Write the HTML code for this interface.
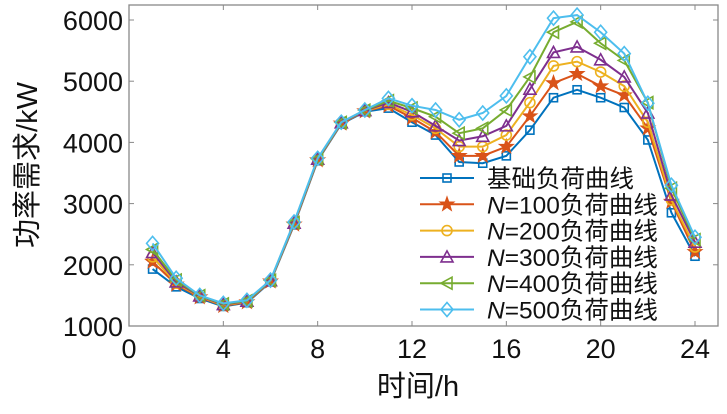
<!DOCTYPE html>
<html><head><meta charset="utf-8"><style>
body{margin:0;background:#fff;width:727px;height:409px;overflow:hidden}
svg text{font-family:"Liberation Sans","Noto Sans CJK SC",sans-serif}
</style></head><body>
<svg id="chart" width="727" height="409" xmlns="http://www.w3.org/2000/svg"></svg>
<script>
const hours=[1,2,3,4,5,6,7,8,9,10,11,12,13,14,15,16,17,18,19,20,21,22,23,24];
const base=[1930,1640,1450,1320,1380,1720,2650,3700,4300,4500,4560,4330,4120,3680,3660,3780,4200,4730,4860,4730,4570,4040,2850,2140];
const n100=[2050,1680,1470,1330,1390,1730,2660,3710,4310,4510,4600,4400,4170,3780,3780,3930,4430,4970,5120,4920,4770,4230,3030,2210];
const n200=[2130,1700,1480,1340,1400,1735,2670,3720,4315,4515,4620,4450,4230,3930,3930,4120,4650,5250,5320,5150,4920,4330,3060,2290];
const n300=[2200,1720,1490,1350,1405,1740,2680,3725,4320,4520,4650,4500,4270,4030,4100,4270,4870,5470,5560,5350,5070,4480,3140,2370];
const n400=[2250,1750,1495,1360,1410,1745,2690,3730,4325,4525,4680,4560,4420,4150,4230,4530,5070,5800,5970,5620,5340,4650,3250,2410];
const n500=[2350,1780,1500,1370,1420,1750,2700,3740,4330,4530,4720,4600,4530,4370,4480,4760,5400,6030,6080,5800,5450,4640,3300,2450];
const seriesNames=["基础负荷曲线","N=100负荷曲线","N=200负荷曲线","N=300负荷曲线","N=400负荷曲线","N=500负荷曲线"];
const xTicks=[0,4,8,12,16,20,24];
const yTicks=[1000,2000,3000,4000,5000,6000];
const data=[base,n100,n200,n300,n400,n500];
const colors=["#0072BD","#D95319","#EDB120","#7E2F8E","#77AC30","#4DBEEE"];
const markers=["square","star","circle","tri-up","tri-left","diamond"];
const L=129,R=718,T=5,B=326;
const sx=h=>L+h*(695-L)/24;
const sy=v=>B-(v-1000)*61.2/1000;
const svg=document.getElementById('chart');
const NS="http://www.w3.org/2000/svg";
function mk(tag,attrs,parent){const e=document.createElementNS(NS,tag);for(const k in attrs)e.setAttribute(k,attrs[k]);(parent||svg).appendChild(e);return e;}
const box=mk('rect',{x:L,y:T,width:R-L,height:B-T,fill:'none',stroke:'#888','stroke-width':1.3});


xTicks.forEach(t=>{
 const x=sx(t);
 mk('line',{x1:x,x2:x,y1:B,y2:B-5,stroke:'#888'});
 mk('line',{x1:x,x2:x,y1:T,y2:T+5,stroke:'#888'});
 const tx=mk('text',{x:x,y:B+32,'text-anchor':'middle','font-size':27,fill:'#111'});
 tx.textContent=t;
 
 
});
yTicks.forEach(t=>{
 const y=sy(t);
 mk('line',{x1:L,x2:L+5,y1:y,y2:y,stroke:'#888'});
 mk('line',{x1:R,x2:R-5,y1:y,y2:y,stroke:'#888'});
 const tx=mk('text',{x:L-6,y:y+10,'text-anchor':'end','font-size':27,fill:'#111'});
 tx.textContent=t;
 
 
});
const xl=mk('text',{x:418,y:396,'text-anchor':'middle','font-size':29,fill:'#111'});
xl.textContent='时间/h';


const yl=mk('text',{x:0,y:0,transform:'translate(37,165) rotate(-90)','text-anchor':'middle','font-size':29,fill:'#111'});
yl.textContent='功率需求/kW';


function marker(type,x,y,c,g){
 const a={fill:'none',stroke:c,'stroke-width':1.6};
 let e;
 if(type==='square')e=mk('rect',Object.assign({x:x-4,y:y-4,width:8,height:8},a),g);
 else if(type==='circle')e=mk('circle',Object.assign({cx:x,cy:y,r:5},a),g);
 else if(type==='tri-up')e=mk('polygon',Object.assign({points:`${x},${y-6} ${x-6},${y+5} ${x+6},${y+5}`},a),g);
 else if(type==='tri-left')e=mk('polygon',Object.assign({points:`${x-6},${y} ${x+5},${y-6} ${x+5},${y+6}`},a),g);
 else if(type==='diamond')e=mk('polygon',Object.assign({points:`${x},${y-7} ${x+6},${y} ${x},${y+7} ${x-6},${y}`},a),g);
 else{let p=[];for(let i=0;i<10;i++){const r=i%2?3:7.5,ang=-Math.PI/2+i*Math.PI/5;p.push((x+r*Math.cos(ang)).toFixed(1)+','+(y+r*Math.sin(ang)).toFixed(1));}
  e=mk('polygon',{points:p.join(' '),fill:c,stroke:c,'stroke-width':1},g);}
 return e;
}
data.forEach((s,i)=>{
 const g=mk('g',{});
 
 
 const pl=mk('polyline',{points:s.map((v,j)=>sx(hours[j])+','+sy(v)).join(' '),fill:'none',stroke:colors[i],'stroke-width':2},g);
 
 
 s.forEach((v,j)=>{const m=marker(markers[i],sx(hours[j]),sy(v),colors[i],g);
  
  });
});
seriesNames.forEach((n,i)=>{
 const y=178+i*26.3;
 const g=mk('g',{});
 
 
 mk('line',{x1:420,x2:474,y1:y,y2:y,stroke:colors[i],'stroke-width':2},g);
 marker(markers[i],447,y,colors[i],g);
 const t=mk('text',{x:487,y:y+9,'font-size':24.5,fill:'#111'},g);
 if(i===0)t.textContent=n;else{const ts=mk('tspan',{'font-style':'italic'},t);ts.textContent='N';t.appendChild(document.createTextNode(n.slice(1)));}
});
</script>
</body></html>
